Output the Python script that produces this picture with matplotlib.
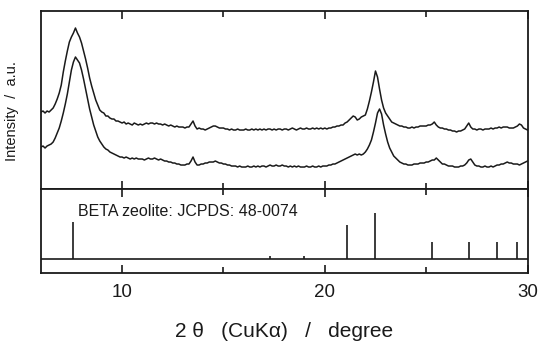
import numpy as np
import matplotlib
matplotlib.use("Agg")
import matplotlib.pyplot as plt

plt.rcParams["font.family"] = ["Liberation Sans", "DejaVu Sans"]

# 2 theta grid of the scans (0.1 degree steps)
two_theta = np.round(np.arange(6.0, 30.01, 0.1), 1)

# upper trace (a.u.)
upper = [
    77, 78, 76, 78, 77, 79, 81, 85, 90, 96,
    104, 117, 128, 138, 147, 152, 156, 161, 156, 152,
    146, 138, 130, 121, 111, 103, 96, 89, 84, 79,
    77, 76, 73, 73, 71, 70, 70, 68, 68, 67,
    66, 67, 65, 66, 65, 64, 66, 65, 64, 65,
    64, 65, 66, 65, 66, 66, 65, 66, 65, 65,
    64, 65, 64, 63, 64, 63, 62, 63, 62, 62,
    62, 61, 62, 62, 65, 68, 63, 60, 61, 60,
    60, 59, 60, 61, 62, 63, 63, 62, 61, 61,
    61, 60, 60, 59, 60, 59, 59, 60, 59, 59,
    59, 60, 59, 59, 60, 59, 60, 59, 60, 59,
    60, 59, 60, 60, 59, 60, 59, 60, 60, 59,
    60, 60, 59, 60, 61, 60, 59, 60, 61, 60,
    60, 61, 60, 60, 61, 60, 61, 60, 61, 60,
    61, 60, 61, 61, 62, 62, 63, 63, 64, 64,
    66, 67, 69, 71, 73, 72, 69, 70, 72, 73,
    74, 80, 88, 97, 107, 118, 112, 100, 89, 81,
    76, 73, 70, 67, 66, 65, 64, 63, 63, 62,
    62, 61, 61, 62, 61, 62, 62, 63, 63, 63,
    63, 64, 64, 65, 67, 64, 62, 61, 61, 60,
    60, 59, 59, 58, 58, 57, 58, 58, 59, 60,
    63, 66, 62, 60, 60, 59, 60, 60, 59, 60,
    60, 60, 61, 60, 61, 61, 62, 61, 62, 62,
    62, 61, 61, 61, 62, 63, 65, 64, 61, 60,
    59,
]

# lower trace (a.u.)
lower = [
    42, 43, 41, 43, 44, 45, 47, 51, 56, 61,
    68, 76, 85, 95, 107, 119, 127, 132, 129, 126,
    119, 110, 100, 90, 80, 72, 64, 58, 52, 48,
    45, 42, 40, 39, 37, 36, 35, 34, 33, 32,
    32, 31, 32, 31, 30, 31, 30, 31, 30, 30,
    30, 29, 30, 31, 30, 30, 31, 30, 29, 30,
    29, 28, 28, 27, 27, 26, 26, 25, 25, 24,
    24, 24, 25, 25, 28, 32, 27, 24, 24, 25,
    25, 26, 26, 27, 27, 27, 28, 27, 26, 26,
    25, 25, 24, 24, 23, 23, 23, 22, 23, 22,
    22, 22, 23, 22, 22, 23, 22, 23, 22, 23,
    23, 22, 23, 24, 23, 23, 24, 23, 23, 24,
    23, 23, 22, 23, 22, 23, 22, 23, 22, 22,
    22, 23, 22, 22, 23, 22, 22, 23, 22, 23,
    23, 23, 24, 24, 25, 25, 26, 27, 28, 29,
    30, 31, 32, 33, 34, 35, 34, 35, 34, 35,
    37, 40, 44, 49, 57, 66, 76, 80, 75, 64,
    55, 47, 41, 37, 33, 31, 29, 27, 26, 25,
    25, 24, 24, 24, 25, 25, 25, 26, 26, 26,
    27, 27, 28, 29, 29, 31, 29, 27, 25, 25,
    24, 23, 23, 23, 22, 22, 22, 23, 23, 24,
    26, 29, 30, 27, 24, 23, 23, 22, 22, 23,
    22, 22, 23, 22, 23, 24, 24, 25, 25, 26,
    27, 26, 26, 25, 25, 25, 24, 25, 26, 27,
    28,
]

# JCPDS 48-0074 reference lines
ref_pos = [7.6, 17.3, 18.95, 21.1, 22.5, 25.3, 27.1, 28.5, 29.5]
ref_int = [37, 3, 3, 34, 46, 17, 17, 17, 17]

ink = "#1a1a1a"

fig = plt.figure(figsize=(5.40, 3.41), dpi=100)
ax1 = fig.add_axes([0.0759, 0.4457, 0.901, 0.522])
ax2 = fig.add_axes([0.0759, 0.1985, 0.901, 0.2472])

ax1.plot(two_theta, upper, color=ink, lw=1.1)
ax1.plot(two_theta, lower, color=ink, lw=1.1)
ax1.set_ylim(0, 178)
ax1.set_yticks([])
ax1.set_ylabel("Intensity  /  a.u.", fontsize=10.5, color=ink)
ax1.yaxis.set_label_coords(-0.045, 0.44)

ax2.vlines(ref_pos, 0, ref_int, color=ink, lw=1.2)
ax2.axhline(0, color=ink, lw=1.2)
ax2.set_ylim(-14, 70.3)
ax2.set_yticks([])
ax2.text(7.85, 48, "BETA zeolite: JCPDS: 48-0074", fontsize=11.5,
         va="center", ha="left", color=ink)
ax2.set_xlabel("2 θ   (CuKα)   /   degree", fontsize=15, labelpad=15,
               color=ink)

for ax in (ax1, ax2):
    ax.set_xlim(6, 30)
    ax.set_xticks([10, 20, 30])
    ax.set_xticks([15, 25], minor=True)
    ax.tick_params(axis="x", which="both", direction="in", top=True,
                   bottom=True, color=ink, width=1.2)
    ax.tick_params(axis="x", which="major", length=6)
    ax.tick_params(axis="x", which="minor", length=4)
    for s in ax.spines.values():
        s.set_color(ink)
        s.set_linewidth(1.3)

ax1.tick_params(axis="x", labelbottom=False)
ax2.tick_params(axis="x", labelsize=13.5, pad=8, labelcolor=ink)

fig.savefig("out.png", dpi=100)
